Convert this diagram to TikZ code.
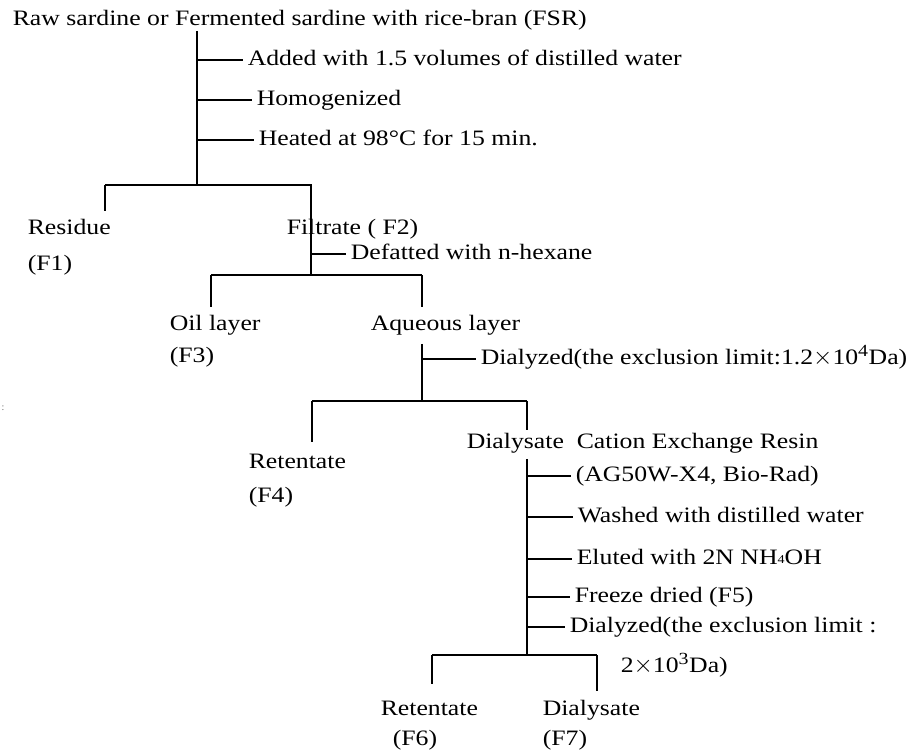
\documentclass[tikz,border=0pt]{standalone}
\usepackage{fontspec}
\setmainfont{Liberation Serif}[FakeStretch=1.17]
\newcommand{\volte}{{\fontsize{32}{32}\selectfont$\times$}}
\begin{document}
\begin{tikzpicture}[x=1pt,y=-1pt,font=\fontsize{22}{26}\selectfont]

        % Stili globali per linee ed etichette
        \tikzset{every path/.style={line width=1.5pt},
                 etichetta/.style={anchor=west, inner sep=0pt, text height=15pt, text depth=5pt},
                 tacca/.style={shorten >=4pt}}

        % Area del disegno
        \useasboundingbox (0,0) rectangle (923,753);

        % Materiale di partenza e trattamenti iniziali
        \node[etichetta] (src) at (12,20) {Raw sardine or Fermented sardine with rice-bran (FSR)};
        \node[etichetta] (add) at (247,60) {Added with 1.5 volumes of distilled water};
        \node[etichetta] (hom) at (256,100) {Homogenized};
        \node[etichetta] (heat) at (258,140) {Heated at 98°C for 15 min.};

        % Prima separazione
        \node[etichetta] (res) at (27,229) {Residue};
        \node[etichetta] (f1) at (27,265) {(F1)};
        \node[etichetta] (filt) at (286,229) {Filtrate ( F2)};
        \node[etichetta] (def) at (350,254) {Defatted with n-hexane};

        % Seconda separazione
        \node[etichetta] (oil) at (169,325) {Oil layer};
        \node[etichetta] (f3) at (169,357) {(F3)};
        \node[etichetta] (aq) at (370,325) {Aqueous layer};
        \node[etichetta] (dlz) at (480,359) {Dialyzed(the exclusion limit:1.2\volte10\textsuperscript{\fontsize{17}{17}\selectfont 4}Da)};

        % Terza separazione
        \node[etichetta] (ret) at (248,463) {Retentate};
        \node[etichetta] (f4) at (248,497) {(F4)};
        \node[etichetta] (dia) at (466,443) {Dialysate};
        \node[etichetta] (cer) at (576,443) {Cation Exchange Resin};
        \node[etichetta] (ag) at (575,476) {(AG50W-X4, Bio-Rad)};
        \node[etichetta] (wash) at (577,517) {Washed with distilled water};
        \node[etichetta] (elu) at (576,559) {Eluted with 2N NH\raisebox{1pt}{\fontsize{12}{12}\selectfont 4}OH};
        \node[etichetta] (frz) at (574,597) {Freeze dried (F5)};
        \node[etichetta] (dlzb) at (569,627) {Dialyzed(the exclusion limit :};
        \node[etichetta] (lim) at (620,667) {2\volte10\textsuperscript{\fontsize{17}{17}\selectfont 3}Da)};

        % Ultima separazione
        \node[etichetta] (retb) at (380,710) {Retentate};
        \node[etichetta] (f6) at (392,740) {(F6)};
        \node[etichetta] (diab) at (542,710) {Dialysate};
        \node[etichetta] (f7) at (542,740) {(F7)};

        % Segno isolato a sinistra
        \node[inner sep=0pt, font=\fontsize{10}{10}\selectfont, text=gray] (punti) at (3,408) {:};

        % Punti di diramazione
        \coordinate (b1m) at (197,185);
        \coordinate (b1l) at (105,185);
        \coordinate (b1r) at (311,185);
        \coordinate (b2m) at (311,275);
        \coordinate (b2l) at (211,275);
        \coordinate (b2r) at (422,275);
        \coordinate (b3m) at (422,401);
        \coordinate (b3l) at (312,401);
        \coordinate (b3r) at (527,401);
        \coordinate (b4m) at (527,655);
        \coordinate (b4l) at (432,655);
        \coordinate (b4r) at (597,655);

        % Tronco principale e tacche
        \draw (src.south -| b1m) -- (b1m);
        \foreach \n in {add,hom,heat}
            \draw[tacca] (\n.west -| b1m) -- (\n.west);

        % Residuo e filtrato
        \draw (b1l) -- (b1r) -- (b2m);
        \draw[shorten >=7pt] (b1l) -- (b1l |- res.north);
        \draw[tacca] (def.west -| b1r) -- (def.west);

        % Strato oleoso e acquoso
        \draw (b2l) -- (b2r);
        \draw[shorten >=7pt] (b2l) -- (b2l |- oil.north);
        \draw[shorten >=7pt] (b2r) -- (b2r |- aq.north);
        \draw[shorten <=8pt] (aq.south -| b2r) -- (b3m);
        \draw[tacca] (dlz.west -| b3m) -- (dlz.west);

        % Retentato e dializzato
        \draw (b3l) -- (b3r);
        \draw[shorten >=10pt] (b3l) -- (b3l |- ret.north);
        \draw[shorten >=2pt] (b3r) -- (b3r |- dia.north);
        \draw[shorten <=5pt] (dia.south -| b3r) -- (b4m);
        \foreach \n in {ag,wash,elu,frz,dlzb}
            \draw[tacca] (\n.west -| b4m) -- (\n.west);

        % Frazioni finali
        \draw (b4l) -- (b4r);
        \draw[shorten >=15pt] (b4l) -- (b4l |- retb.north);
        \draw[shorten >=8pt] (b4r) -- (b4r |- diab.north);

    \end{tikzpicture}
\end{document}
